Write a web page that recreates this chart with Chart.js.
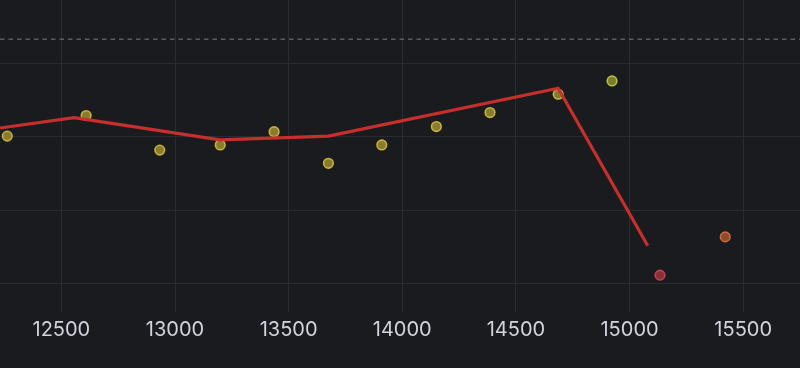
<!DOCTYPE html>
<html>
<head>
<meta charset="utf-8">
<script src="https://cdn.jsdelivr.net/npm/chart.js@4/dist/chart.umd.min.js"></script>
<style>
  html, body { margin: 0; padding: 0; background: #1a1b1f; }
  #wrap { width: 800px; height: 368px; position: relative; }
</style>
</head>
<body>
<div id="wrap"><canvas id="c"></canvas></div>
<script>
// Scatter observations
const pointX = [12262, 12609, 12933, 13199, 13436, 13675, 13910, 14150, 14386, 14686, 14923, 15134, 15421];
const pointY = [2.01, 2.29, 1.82, 1.89, 2.07, 1.64, 1.89, 2.14, 2.33, 2.58, 2.76, 0.12, 0.64];
// Trend line vertices
const lineX = [12230, 12556, 13198, 13675, 14686, 15080];
const lineY = [2.12, 2.26, 1.96, 2.01, 2.66, 0.52];
// Dashed reference level
const refLevel = 3.326;
// Axis
const xMin = 12230, xMax = 15750;
const yMin = -0.272, yMax = 3.86;
const xTickValues = [12500, 13000, 13500, 14000, 14500, 15000, 15500];
const yGridValues = [0, 1, 2, 3];

function pointFill(v) {
  if (v < 0.4) return '#8a3035';
  if (v < 1.0) return '#8c4b2c';
  if (v > 2.7) return '#7a7f30';
  if (v > 2.5) return '#7f7d30';
  return '#8a7c2f';
}
function pointBorder(v) {
  if (v < 0.4) return '#c2424a';
  if (v < 1.0) return '#d06a3a';
  if (v > 2.7) return '#b5bd42';
  if (v > 2.5) return '#bdbb40';
  return '#c9b23b';
}

const pts = pointX.map((x, i) => ({ x, y: pointY[i] }));
const line = lineX.map((x, i) => ({ x, y: lineY[i] }));

new Chart(document.getElementById('c'), {
  type: 'scatter',
  data: {
    datasets: [
      {
        data: line,
        showLine: true,
        borderColor: '#c62f2c',
        borderWidth: 3.2,
        pointRadius: 0,
        fill: false
      },
      {
        data: pts,
        showLine: false,
        pointRadius: 4.8,
        borderWidth: 1.6,
        backgroundColor: ctx => pointFill(ctx.raw ? ctx.raw.y : 2),
        borderColor: ctx => pointBorder(ctx.raw ? ctx.raw.y : 2)
      },
      {
        data: [{ x: xMin, y: refLevel }, { x: xMax, y: refLevel }],
        showLine: true,
        borderColor: '#5a5c62',
        borderWidth: 1.5,
        borderDash: [4.5, 4],
        pointRadius: 0
      }
    ]
  },
  options: {
    responsive: true,
    maintainAspectRatio: false,
    animation: false,
    layout: { padding: 0, autoPadding: false },
    plugins: { legend: { display: false }, tooltip: { enabled: false } },
    scales: {
      x: {
        type: 'linear',
        min: xMin,
        max: xMax,
        afterBuildTicks: s => { s.ticks = xTickValues.map(v => ({ value: v })); },
        afterFit: s => { s.height = 64; },
        grid: { color: '#2b2c31', lineWidth: 1, drawTicks: true, tickLength: 8, tickColor: '#2b2c31' },
        border: { display: false },
        ticks: {
          color: '#d2d3de',
          font: { family: 'Inter', size: 20 },
          padding: 6,
          maxRotation: 0,
          autoSkip: false,
          callback: v => String(v)
        }
      },
      y: {
        type: 'linear',
        min: yMin,
        max: yMax,
        afterBuildTicks: s => { s.ticks = yGridValues.map(v => ({ value: v })); },
        afterFit: s => { s.width = 0; },
        grid: { color: '#2b2c31', lineWidth: 1, drawTicks: false },
        border: { display: false },
        ticks: { display: false }
      }
    }
  }
});
</script>
</body>
</html>
